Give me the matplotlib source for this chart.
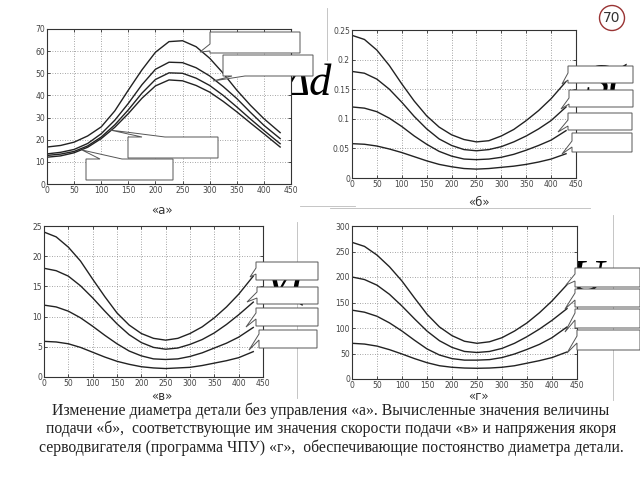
import matplotlib
matplotlib.use("Agg")
import matplotlib.pyplot as plt
from matplotlib.patches import Polygon, Circle
from matplotlib.ticker import FuncFormatter, MultipleLocator

# ---------------- data ----------------
x_pos = [0, 25, 50, 75, 100, 125, 150, 175, 200, 225, 250, 275, 300, 325, 350, 375, 400, 430]

# (а) diameter change without control
a1 = [16.7, 17.4, 18.9, 21.7, 25.8, 33.0, 42.4, 51.5, 59.5, 64.3, 64.7, 62.0, 56.8, 50.0, 42.4, 35.6, 29.5, 23.2]
a2 = [13.6, 14.3, 15.6, 18.3, 22.7, 28.8, 36.4, 44.8, 51.8, 55.0, 54.8, 52.5, 48.8, 44.0, 38.6, 32.4, 26.5, 20.5]
a3 = [12.9, 13.5, 14.7, 17.2, 21.2, 26.7, 33.5, 41.0, 47.2, 50.2, 50.0, 47.8, 44.5, 40.0, 34.8, 29.4, 24.2, 18.2]
a4 = [12.1, 12.7, 14.1, 16.6, 20.5, 25.6, 31.8, 38.7, 44.3, 47.0, 46.6, 44.5, 41.5, 37.3, 32.6, 27.6, 22.7, 16.7]

# (б) feed
b1 = [0.241, 0.234, 0.216, 0.190, 0.159, 0.130, 0.105, 0.086, 0.073, 0.065, 0.061, 0.063, 0.071, 0.082, 0.097, 0.114, 0.134, 0.163]
b2 = [0.180, 0.177, 0.167, 0.150, 0.128, 0.104, 0.083, 0.066, 0.055, 0.048, 0.046, 0.048, 0.053, 0.061, 0.071, 0.083, 0.097, 0.120]
b3 = [0.120, 0.118, 0.112, 0.101, 0.087, 0.071, 0.057, 0.045, 0.037, 0.032, 0.031, 0.032, 0.035, 0.040, 0.047, 0.055, 0.064, 0.080]
b4 = [0.058, 0.057, 0.054, 0.049, 0.043, 0.036, 0.029, 0.023, 0.019, 0.016, 0.015, 0.016, 0.018, 0.020, 0.023, 0.027, 0.032, 0.041]

# (в) feed speed
v1 = [24.0, 23.2, 21.5, 19.2, 16.2, 13.3, 10.6, 8.6, 7.2, 6.4, 6.1, 6.4, 7.2, 8.3, 9.8, 11.6, 13.7, 16.7]
v2 = [18.0, 17.6, 16.7, 15.1, 13.1, 10.9, 8.8, 7.0, 5.7, 4.9, 4.6, 4.8, 5.4, 6.2, 7.3, 8.7, 10.3, 12.4]
v3 = [11.9, 11.6, 10.9, 9.8, 8.4, 6.9, 5.5, 4.3, 3.5, 3.0, 2.9, 3.0, 3.4, 4.0, 4.8, 5.6, 6.6, 8.2]
v4 = [5.9, 5.8, 5.5, 4.9, 4.1, 3.3, 2.6, 2.1, 1.7, 1.5, 1.4, 1.5, 1.6, 1.9, 2.3, 2.7, 3.2, 4.2]

# (г) servo armature voltage
g1 = [268, 260, 243, 220, 192, 159, 127, 102, 85, 74, 70, 73, 81, 94, 110, 130, 153, 185]
g2 = [200, 195, 184, 166, 143, 118, 94, 75, 62, 54, 52, 54, 60, 70, 83, 98, 115, 138]
g3 = [135, 131, 123, 110, 94, 76, 59, 47, 40, 37, 37, 38, 42, 49, 58, 68, 81, 102]
g4 = [70, 68.5, 64.5, 57.5, 49, 40, 32, 26, 23, 21.5, 21, 21.5, 23, 26, 31, 36, 42, 53]

x_ticks = [0, 50, 100, 150, 200, 250, 300, 350, 400, 450]
labels = ["«а»", "«б»", "«в»", "«г»"]
caption = ("Изменение диаметра детали без управления «а». Вычисленные значения величины\n"
           "подачи «б»,  соответствующие им значения скорости подачи «в» и напряжения якоря\n"
           "серводвигателя (программа ЧПУ) «г»,  обеспечивающие постоянство диаметра детали.")
slide_no = "70"

# ---------------- figure ----------------
W, H = 640, 480
fig = plt.figure(figsize=(6.4, 4.8), dpi=100)
fig.patch.set_facecolor("white")

def fr(l, t, r, b):
    return [l / W, 1 - b / H, (r - l) / W, (b - t) / H]

# background layer (formula fragments, slide lines)
bg = fig.add_axes([0, 0, 1, 1], zorder=-1)
bg.set_xlim(0, W); bg.set_ylim(H, 0); bg.axis("off")
serif = ["Liberation Serif", "DejaVu Serif"]
bg.text(283, 95, "Δd", fontsize=32, family=serif, style="italic", va="baseline")
bg.text(585, 96, "S(", fontsize=34, family=serif, style="italic", va="baseline")
bg.text(264, 296, "V(", fontsize=34, family=serif, style="italic", va="baseline")
bg.text(570, 292, "U", fontsize=34, family=serif, style="italic", va="baseline")
for (x0, y0, x1, y1) in [(297, 222, 297, 398), (613, 215, 613, 400), (327, 8, 327, 60),
                          (300, 206, 355, 206), (330, 208, 590, 208)]:
    bg.plot([x0, x1], [y0, y1], color="#bbbbbb", lw=0.6)

def setup(ax, ylim, ystep, fmt):
    ax.set_xlim(0, 450)
    ax.set_ylim(*ylim)
    ax.set_xticks(x_ticks)
    ax.yaxis.set_major_locator(MultipleLocator(ystep))
    ax.yaxis.set_major_formatter(FuncFormatter(lambda v, p: fmt % v))
    ax.grid(True, color="#888888", linestyle=(0, (1, 2)), linewidth=0.6)
    ax.tick_params(direction="in", length=2.5, width=0.6, labelsize=5.5, pad=1.5,
                   top=True, right=True, colors="#333333", labelcolor="#444444")
    for s in ax.spines.values():
        s.set_color("#333333"); s.set_linewidth(0.8)

axA = fig.add_axes(fr(47, 29, 291, 184))
axB = fig.add_axes(fr(352, 30, 576, 178))
axV = fig.add_axes(fr(44, 226, 263, 377))
axG = fig.add_axes(fr(352, 226, 577, 379))

for ax, series, ylim, ystep, fmt in [
        (axA, [a1, a2, a3, a4], (0, 70), 10, "%g"),
        (axB, [b1, b2, b3, b4], (0, 0.25), 0.05, "%g"),
        (axV, [v1, v2, v3, v4], (0, 25), 5, "%g"),
        (axG, [g1, g2, g3, g4], (0, 300), 50, "%g")]:
    setup(ax, ylim, ystep, fmt)
    for s in series:
        ax.plot(x_pos, s, color="#222222", lw=1.0)

# ---------------- overlay (callouts, captions) ----------------
ov = fig.add_axes([0, 0, 1, 1], zorder=10)
ov.set_xlim(0, W); ov.set_ylim(H, 0); ov.axis("off")
ov.patch.set_alpha(0)

def callout_left(x0, y0, x1, y1, ya, yb, tip):
    pts = [(x0, y0), (x1, y0), (x1, y1), (x0, y1), (x0, yb), tip, (x0, ya)]
    ov.add_patch(Polygon(pts, closed=True, fc="white", ec="#555555", lw=0.7))

def callout_top(x0, y0, x1, y1, xa, xb, tip):
    pts = [(x0, y0), (xa, y0), tip, (xb, y0), (x1, y0), (x1, y1), (x0, y1)]
    ov.add_patch(Polygon(pts, closed=True, fc="white", ec="#555555", lw=0.7))

def callout_bottom(x0, y0, x1, y1, xa, xb, tip):
    pts = [(x0, y0), (x1, y0), (x1, y1), (xb, y1), tip, (xa, y1), (x0, y1)]
    ov.add_patch(Polygon(pts, closed=True, fc="white", ec="#555555", lw=0.7))

# (а)
callout_left(210, 32, 300, 53, 44, 51, (200, 52))
callout_bottom(223, 55, 313, 76, 232, 245, (213, 81))
callout_top(128, 137, 218, 158, 142, 165, (110, 130))
callout_top(86, 159, 173, 180, 100, 122, (82, 150))
# (б)
callout_left(568, 66, 633, 83, 73, 80, (562, 84))
callout_left(569, 90, 633, 107, 98, 104, (561, 109))
callout_left(568, 113, 632, 130, 120, 126, (558, 132))
callout_left(572, 133, 632, 152, 141, 147, (562, 154))
# (в)
callout_left(256, 262, 318, 280, 268, 274, (250, 277))
callout_left(257, 287, 318, 304, 292, 298, (247, 302))
callout_left(256, 308, 318, 326, 313, 319, (246, 327))
callout_left(259, 330, 317, 348, 334, 340, (249, 350))
# (г)
callout_left(575, 268, 640, 287, 274, 281, (566, 285))
callout_left(575, 289, 640, 307, 293, 300, (565, 309))
callout_left(575, 309, 640, 328, 313, 320, (565, 332))
callout_left(577, 330, 640, 350, 336, 343, (567, 353))

for (tx, ty), lab in zip([(162, 210), (479, 203), (162, 396), (478, 397)], labels):
    ov.text(tx, ty, lab, fontsize=8.5, ha="center", va="center", color="#333333",
            family=["DejaVu Sans"])

ov.text(331, 429, caption, fontsize=11.3, ha="center", va="center", color="#222222",
        family=serif, linespacing=1.17)

ov.add_patch(Circle((612, 18), 12.5, fc="white", ec="#993333", lw=1.0))
ov.text(612, 18.5, slide_no, fontsize=10, ha="center", va="center", color="#333333")

fig.savefig("out.png", dpi=100)
